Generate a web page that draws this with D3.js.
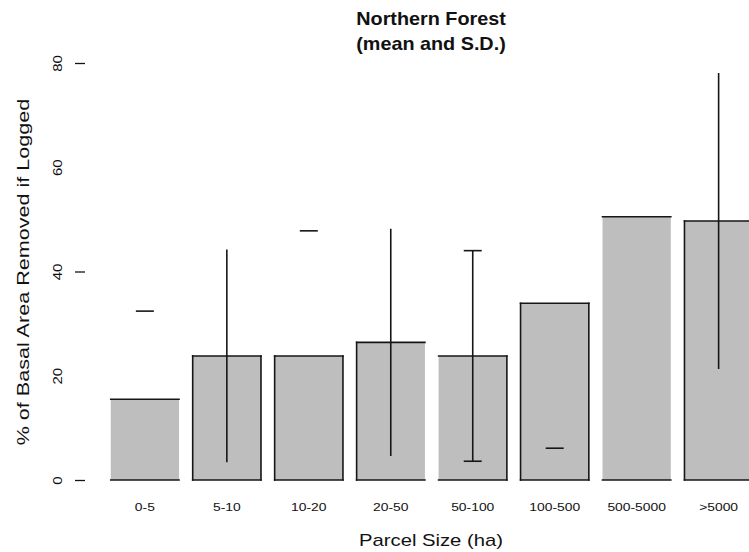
<!DOCTYPE html>
<html>
<head>
<meta charset="utf-8">
<script src="https://cdn.jsdelivr.net/npm/d3@7"></script>
<style>
  body { margin: 0; background: #fff; }
  svg { display: block; }
  text { font-family: "Liberation Sans", Arial, Helvetica, sans-serif; fill: #111; }
</style>
</head>
<body>
<svg id="chart" width="749" height="552"></svg>
<script>
// Parcel-size classes and the share of basal area removed when logged
const categories = ["0-5", "5-10", "10-20", "20-50", "50-100", "100-500", "500-5000", ">5000"];
const meanRemoved = [15.5, 23.8, 23.8, 26.4, 23.8, 33.9, 50.5, 49.7];
const sdRemoved = [16.9, 20.4, 24.0, 21.8, 20.2, 27.8, null, 28.4];
const yTickValues = [0, 20, 40, 60, 80];
const yTickLabels = ["0", "20", "40", "60", "80"];
const yTickMarks = [0, 40, 80];

// Which pieces of each outline / whisker are inked in the printed figure
const outlineSides = [
  "top bottom", "top bottom left right", "top bottom left right", "top bottom left",
  "top bottom right", "top bottom left right", "top bottom", "top bottom left"
];
const whiskerParts = ["capHi", "stem", "capHi", "stem", "stem capHi capLo", "capLo", "", "stem"];

const svg = d3.select("#chart");
const ink = "#161616";
const barFill = "#bebebe";

const x = d3.scaleBand()
  .domain(categories)
  .range([103.9, 759.6])
  .paddingInner(0.1667)
  .paddingOuter(0.0833);

const y = d3.scaleLinear().domain([0, 80]).range([480, 63]);

const rows = categories.map((c, i) => ({
  cat: c,
  mean: meanRemoved[i],
  sd: sdRemoved[i],
  sides: outlineSides[i].split(" "),
  parts: whiskerParts[i].split(" ").filter(Boolean)
}));

// bars
svg.append("g").selectAll("rect")
  .data(rows)
  .join("rect")
  .attr("x", d => x(d.cat))
  .attr("y", d => y(d.mean))
  .attr("width", x.bandwidth())
  .attr("height", d => y(0) - y(d.mean))
  .attr("fill", barFill);

// bar outlines
const edges = [];
rows.forEach(d => {
  const x0 = x(d.cat), x1 = x0 + x.bandwidth(), yt = y(d.mean), yb = y(0);
  if (d.sides.includes("top")) edges.push([x0, yt, x1, yt]);
  if (d.sides.includes("bottom")) edges.push([x0, yb, x1, yb]);
  if (d.sides.includes("left")) edges.push([x0, yt, x0, yb]);
  if (d.sides.includes("right")) edges.push([x1, yt, x1, yb]);
});
svg.append("g").selectAll("line")
  .data(edges)
  .join("line")
  .attr("x1", e => e[0]).attr("y1", e => e[1])
  .attr("x2", e => e[2]).attr("y2", e => e[3])
  .attr("stroke", ink)
  .attr("stroke-width", 1.6)
  .attr("stroke-linecap", "square");

// standard-deviation whiskers
const capHalf = 9;
const whiskers = [];
rows.forEach(d => {
  if (d.sd == null) return;
  const cx = x(d.cat) + x.bandwidth() / 2;
  const hi = y(d.mean + d.sd);
  const lo = y(Math.max(0, d.mean - d.sd));
  if (d.parts.includes("stem")) whiskers.push([cx, hi, cx, lo]);
  if (d.parts.includes("capHi")) whiskers.push([cx - capHalf, hi, cx + capHalf, hi]);
  if (d.parts.includes("capLo")) whiskers.push([cx - capHalf, lo, cx + capHalf, lo]);
});
svg.append("g").selectAll("line")
  .data(whiskers)
  .join("line")
  .attr("x1", e => e[0]).attr("y1", e => e[1])
  .attr("x2", e => e[2]).attr("y2", e => e[3])
  .attr("stroke", ink)
  .attr("stroke-width", 1.6);

// y axis: ticks and rotated labels, no spine
const yAxis = d3.axisLeft(y)
  .tickValues(yTickValues)
  .tickFormat((v, i) => yTickLabels[i])
  .tickSize(10)
  .tickPadding(0);
const gy = svg.append("g").attr("transform", "translate(85,0)").call(yAxis);
gy.select(".domain").remove();
gy.selectAll(".tick line")
  .attr("stroke", ink)
  .attr("stroke-width", 1.3)
  .attr("display", v => yTickMarks.includes(v) ? null : "none");
gy.selectAll(".tick text")
  .attr("x", null).attr("dy", null)
  .attr("text-anchor", "middle")
  .attr("font-size", 12)
  .attr("transform", "translate(-23,0) rotate(-90) scale(1.25,1)")
  .style("font-family", "'Liberation Sans', Arial, sans-serif")
  .attr("fill", "#222");

// x axis labels under each bar
const xAxis = d3.axisBottom(x).tickSize(0).tickPadding(0);
const gx = svg.append("g").attr("transform", "translate(0,511)").call(xAxis);
gx.select(".domain").remove();
gx.selectAll(".tick text")
  .attr("y", 0).attr("dy", null)
  .attr("font-size", 11)
  .attr("transform", "scale(1.26,1)")
  .style("font-family", "'Liberation Sans', Arial, sans-serif")
  .attr("fill", "#222");

// axis titles
svg.append("text")
  .attr("transform", "translate(431,546) scale(1.19,1)")
  .attr("text-anchor", "middle")
  .attr("font-size", 17)
  .text("Parcel Size (ha)");

svg.append("text")
  .attr("transform", "translate(29,272) rotate(-90) scale(1.27,1)")
  .attr("text-anchor", "middle")
  .attr("font-size", 17)
  .text("% of Basal Area Removed if Logged");

// chart title
const title = svg.append("text")
  .attr("text-anchor", "middle")
  .attr("font-weight", "bold")
  .attr("font-size", 18);
title.append("tspan").attr("x", 0).attr("y", 0).text("Northern Forest");
title.append("tspan").attr("x", 0).attr("y", 25).text("(mean and S.D.)");
title.attr("transform", "translate(431,25) scale(1.1,1)");
</script>
</body>
</html>
